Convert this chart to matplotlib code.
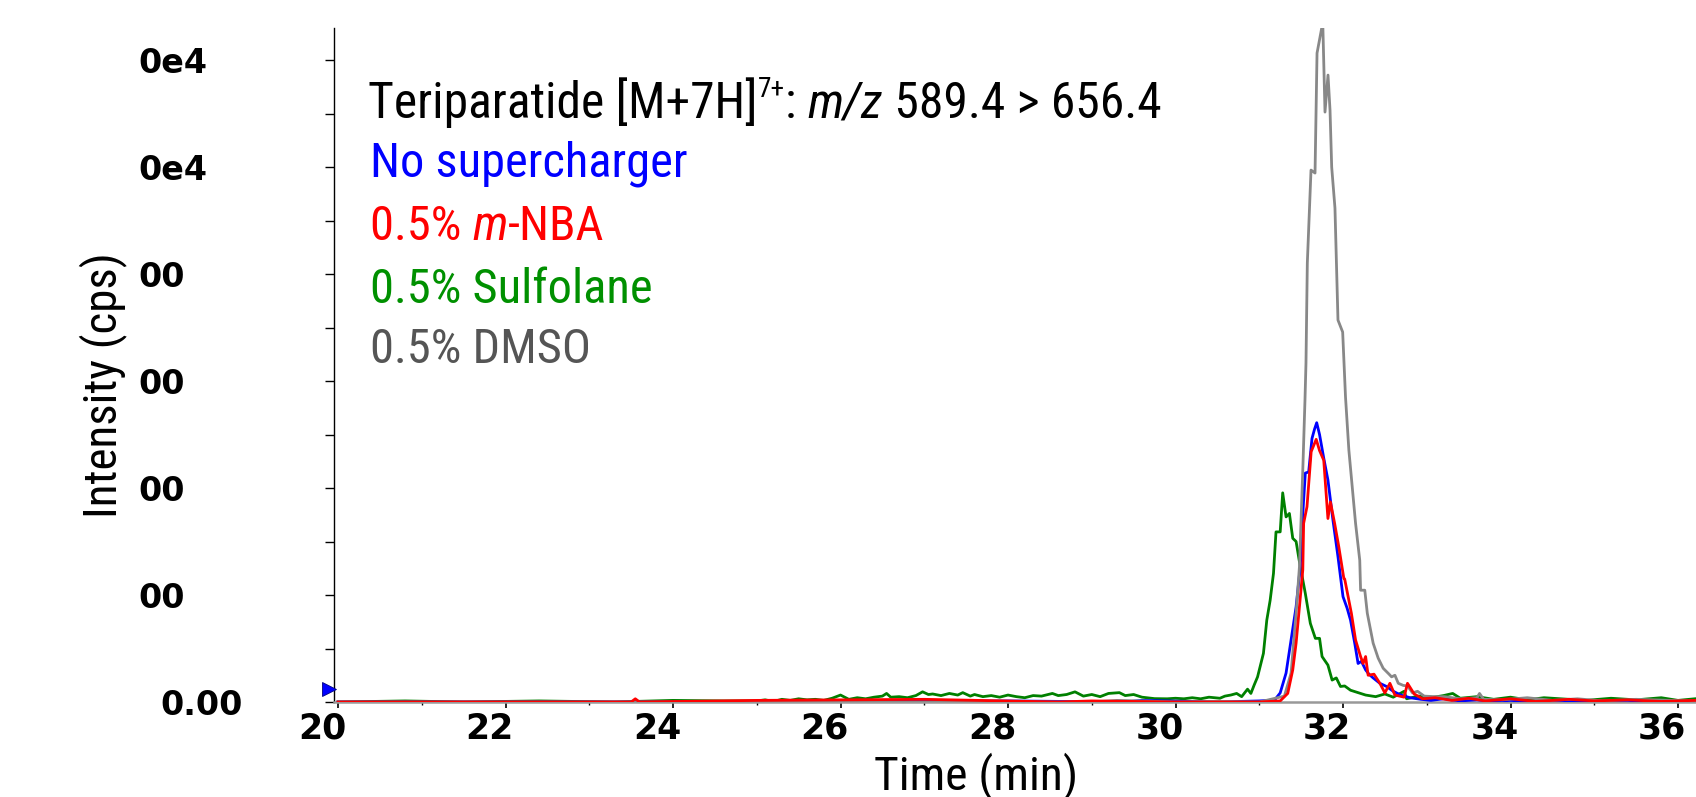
import matplotlib
matplotlib.use("Agg")
import matplotlib.pyplot as plt
from matplotlib import font_manager as fm
from matplotlib.font_manager import FontProperties
from matplotlib.transforms import ScaledTranslation

# ---------------- data ----------------
blue_t = [20.0, 25.0, 28.0, 29.4, 29.6, 30.5, 31.0, 31.12, 31.19, 31.25, 31.32, 31.38, 31.44, 31.49,
          31.525, 31.55, 31.59, 31.63, 31.66, 31.686, 31.72, 31.77, 31.82, 31.88, 31.94, 32.00, 32.05,
          32.09, 32.14, 32.18, 32.22, 32.27, 32.31, 32.36, 32.44, 32.52, 32.60, 32.69, 32.80, 32.93,
          33.05, 33.2, 33.4, 33.6, 33.8, 34.0, 34.3, 34.6, 35.0, 35.4, 35.8, 36.2]
blue_i = [0, 0, 20, 0, 30, 0, 20, 30, 50, 170, 540, 1160, 1780, 2530,
          3650, 4280, 4300, 4928, 5100, 5221, 5000, 4560, 4150, 3400, 2716, 1970, 1750,
          1530, 1100, 720, 760, 600, 520, 450, 350, 290, 200, 130, 80, 50,
          30, 60, 20, 40, 10, 30, 0, 20, 10, 30, 0, 10]

red_t = [20.0, 23.5, 23.55, 23.6, 25.0, 27.0, 28.6, 29.0, 30.0, 31.0, 31.25, 31.34, 31.40, 31.44,
         31.48, 31.52, 31.53, 31.57, 31.62, 31.68, 31.72, 31.77, 31.82, 31.85, 31.90, 31.95, 32.01,
         32.02, 32.10, 32.15, 32.21, 32.24, 32.27, 32.30, 32.37, 32.44, 32.50, 32.56, 32.62, 32.73,
         32.77, 32.85, 32.95, 33.1, 33.3, 33.5, 33.7, 34.0, 34.3, 34.7, 35.0, 35.4, 35.8, 36.2]
red_i = [0, 0, 60, 0, 30, 50, 0, 20, 0, 0, 20, 160, 600, 1100,
         1780, 2470, 3340, 3650, 4680, 4910, 4700, 4520, 3430, 3740, 3340, 2900, 2310,
         2300, 1660, 1160, 850, 720, 850, 500, 520, 350, 170, 350, 130, 90,
         350, 150, 60, 80, 30, 70, 20, 60, 10, 50, 20, 40, 10, 30]

green_t = [20.0, 20.8, 21.5, 22.4, 23.3, 24.0, 24.6, 25.0, 25.1, 25.2, 25.3, 25.4, 25.5, 25.6, 25.7,
           25.8, 25.9, 26.0, 26.1, 26.2, 26.3, 26.4, 26.5, 26.55, 26.6, 26.7, 26.8, 26.9, 26.98,
           27.05, 27.1, 27.2, 27.3, 27.4, 27.46, 27.55, 27.6, 27.7, 27.8, 27.9, 28.0, 28.1, 28.2,
           28.3, 28.4, 28.53, 28.6, 28.7, 28.8, 28.9, 29.0, 29.1, 29.2, 29.33, 29.4, 29.5, 29.6,
           29.75, 29.9, 30.0, 30.1, 30.2, 30.3, 30.4, 30.53, 30.59, 30.66, 30.73, 30.79, 30.86,
           30.90, 30.94, 30.98, 31.05, 31.09, 31.13, 31.17, 31.20, 31.25, 31.28, 31.32, 31.36,
           31.40, 31.44, 31.48, 31.55, 31.61, 31.67, 31.72, 31.75, 31.82, 31.87, 31.92, 31.97,
           32.02, 32.09, 32.17, 32.27, 32.39, 32.5, 32.6, 32.73, 32.76, 32.9, 33.05, 33.2, 33.31,
           33.4, 33.6, 33.8, 34.0, 34.2, 34.4, 34.6, 34.9, 35.2, 35.5, 35.8, 36.0, 36.2]
green_i = [0, 20, 0, 20, 0, 30, 20, 20, 40, 10, 50, 30, 60, 40, 50,
           30, 70, 130, 50, 80, 60, 90, 110, 160, 90, 100, 80, 120, 190,
           140, 150, 120, 160, 130, 175, 110, 140, 100, 120, 90, 130, 100, 80,
           120, 110, 160, 120, 140, 190, 110, 140, 100, 160, 175, 120, 140, 90,
           63, 60, 70, 60, 80, 60, 90, 70, 110, 130, 160, 100, 240,
           160, 320, 470, 910, 1530, 1900, 2405, 3180, 3180, 3910, 3460, 3525,
           3060, 3000, 2620, 2030, 1470, 1190, 1190, 850, 690, 410, 450, 290,
           300, 220, 180, 130, 100, 150, 90, 200, 60, 110, 80, 120, 160,
           70, 100, 50, 90, 40, 80, 60, 30, 70, 40, 80, 30, 60]

gray_t = [20.0, 29.0, 29.3, 29.6, 30.0, 30.5, 31.0, 31.3, 31.38, 31.44, 31.48, 31.52, 31.546,
          31.558, 31.574, 31.618, 31.666, 31.69, 31.746, 31.76, 31.785, 31.821, 31.845, 31.865,
          31.904, 31.94, 31.996, 32.03, 32.07, 32.11, 32.15, 32.20, 32.21, 32.26, 32.29, 32.36,
          32.42, 32.48, 32.55, 32.58, 32.62, 32.66, 32.72, 32.77, 32.83, 32.89, 32.97, 33.1,
          33.21, 33.4, 33.6, 33.63, 33.68, 33.9, 34.2, 34.5, 34.8, 35.1, 35.5, 35.9, 36.2]
gray_i = [0, 0, 30, 20, 0, 10, 0, 110, 540, 1660, 2530, 4340, 5645,
          6336, 8206, 9944, 9888, 12131, 12600, 12600, 11028, 11720, 11065, 10000,
          9234, 7140, 6916, 5700, 4710, 4025, 3340, 2650, 2090, 2090, 1660, 1100,
          820, 630, 520, 470, 500, 350, 310, 300, 170, 200, 110, 100,
          100, 60, 80, 160, 50, 40, 80, 30, 60, 20, 50, 30, 20]

x_ticks = [20, 22, 24, 26, 28, 30, 32, 34, 36]
x_tick_labels = ["20", "22", "24", "26", "28", "30", "32", "34", "36"]
y_ticks = [0, 2000, 4000, 6000, 8000, 10000, 12000]
y_tick_labels = ["0.00", "00", "00", "00", "00", "0e4", "0e4"]
marker_level = 250

# ---------------- fonts ----------------
def _weight_ok(w):
    return w in (400, "normal", "regular", "book", "roman", "medium", 500)

def find_narrow(style):
    entries = fm.fontManager.ttflist
    prefs = ["Liberation Sans Narrow", "Arial Narrow", "Roboto Condensed", "Open Sans Condensed",
             "Noto Sans Condensed", "DejaVu Sans Condensed"]
    for p in prefs:
        for f in entries:
            if f.name == p and f.style == style and _weight_ok(f.weight):
                return f.fname
    for pref_name in ["Liberation Sans", "Roboto", "Open Sans", "Noto Sans", "DejaVu Sans", None]:
        for f in entries:
            if (pref_name is None or f.name == pref_name) and \
               f.stretch in ("condensed", "semi-condensed") and f.style == style and _weight_ok(f.weight):
                return f.fname
    return None

reg_path = find_narrow("normal")
it_path = find_narrow("italic") or find_narrow("oblique")
if reg_path:
    FP_REG = FontProperties(fname=reg_path)
    FP_IT = FontProperties(fname=it_path) if it_path else FontProperties(fname=reg_path, style="italic")
else:
    FP_REG = FontProperties(family="Liberation Sans")
    FP_IT = FontProperties(family="Liberation Sans", style="italic")

W, H = 1696, 797
fig = plt.figure(figsize=(W / 100, H / 100), dpi=100)
renderer = fig.canvas.get_renderer()


def draw_runs(x_px, base_px, runs, size, color):
    """runs: list of (text, italic?, scale, raise_em). Returns list of Text and total width."""
    x = x_px
    texts = []
    for txt, ital, scale, rise in runs:
        fp = (FP_IT if ital else FP_REG).copy()
        fp.set_size(size * scale)
        t = fig.text(x / W, 1 - (base_px - rise * size * 100 / 72) / H, txt, fontproperties=fp,
                     color=color, ha="left", va="baseline")
        bb = t.get_window_extent(renderer)
        x += bb.width
        texts.append(t)
    return texts, x - x_px


def fit_size(runs, target_w, size0=30):
    texts, w = draw_runs(0, 0, runs, size0, "black")
    for t in texts:
        t.remove()
    return size0 * target_w / w


def fitted_text(x_frac, y_frac, txt, target_len, size0=30, **kw):
    fp = FP_REG.copy()
    fp.set_size(size0)
    t = fig.text(x_frac, y_frac, txt, fontproperties=fp, **kw)
    bb = t.get_window_extent(renderer)
    length = bb.height if kw.get("rotation", 0) == 90 else bb.width
    fp2 = FP_REG.copy()
    fp2.set_size(size0 * target_len / length)
    t.set_fontproperties(fp2)
    return t


ax_left, ax_bottom, ax_top = 334, 702, 28
ax = fig.add_axes([ax_left / W, 1 - ax_bottom / H, 1 - ax_left / W, (ax_bottom - ax_top) / H])

ax.plot(green_t, green_i, color="#008000", lw=2.0, zorder=2)
ax.plot(blue_t, blue_i, color="#0000ff", lw=2.0, zorder=3)
ax.plot(gray_t, gray_i, color="#888888", lw=2.0, zorder=4)
ax.plot(red_t, red_i, color="#ff0000", lw=2.0, zorder=5)

px_per_min = 83.75
ax.set_xlim(20 - 4 / px_per_min, 20 + (W - 338) / px_per_min)
ax.set_ylim(0, 12600)

for s in ["top", "right"]:
    ax.spines[s].set_visible(False)
ax.spines["left"].set_color("black")
ax.spines["left"].set_linewidth(1.0)
ax.spines["bottom"].set_color("#999999")
ax.spines["bottom"].set_linewidth(1.8)

ax.set_xticks(x_ticks, labels=x_tick_labels, fontfamily="DejaVu Sans", fontweight="bold", fontsize=25)
ax.set_xticks([21, 23, 25, 27, 29, 31, 33, 35], minor=True)
ax.set_yticks(y_ticks, labels=y_tick_labels, fontfamily="DejaVu Sans", fontweight="bold", fontsize=24)
ax.set_yticks([1000, 3000, 5000, 7000, 9000, 11000], minor=True)
ax.tick_params(axis="x", which="major", length=4, width=1.2, direction="out", pad=3, color="black")
ax.tick_params(axis="x", which="minor", length=2.5, width=1.0, direction="out", color="black")
ax.tick_params(axis="y", which="both", length=6.5, width=1.0, direction="out", color="black")
ax.tick_params(axis="y", which="major", pad=134)

for lbl in ax.get_yticklabels():
    lbl.set_horizontalalignment("left")
ax.get_yticklabels()[0].set_transform(ax.get_yticklabels()[0].get_transform()
                                      + ScaledTranslation(22 / 100, 0, fig.dpi_scale_trans))
for lbl in ax.get_xticklabels():
    lbl.set_transform(lbl.get_transform() + ScaledTranslation(-16 / 100, 0, fig.dpi_scale_trans))

# blue marker at left of axis
ax.plot([ax.get_xlim()[0] - 5 / px_per_min], [marker_level], marker=">", markersize=9.5,
        color="#0000ff", markeredgecolor="#000080", markeredgewidth=0.6, clip_on=False, zorder=6)

# annotation text (runs: text, italic, scale, rise in em)
title_runs = [("Teriparatide [M+7H]", False, 1.0, 0.0), ("7+", False, 0.55, 0.42),
              (": ", False, 1.0, 0.0), ("m/z", True, 1.0, 0.0), (" 589.4 > 656.4", False, 1.0, 0.0)]
draw_runs(368, 118, title_runs, fit_size(title_runs, 792), "black")

legend_runs = [
    [("No supercharger", False, 1.0, 0.0)],
    [("0.5% ", False, 1.0, 0.0), ("m", True, 1.0, 0.0), ("-NBA", False, 1.0, 0.0)],
    [("0.5% Sulfolane", False, 1.0, 0.0)],
    [("0.5% DMSO", False, 1.0, 0.0)],
]
legend_colors = ["#0000ff", "#ff0000", "#009000", "#555555"]
legend_baselines = [176.7, 240, 303, 363]
leg_size = fit_size(legend_runs[0], 318)
for runs, col, yb in zip(legend_runs, legend_colors, legend_baselines):
    draw_runs(370, yb, runs, leg_size, col)

fitted_text(103 / W, 1 - 385 / H, "Intensity (cps)", 266, rotation=90, ha="center", va="center",
            color="black")
fitted_text(976 / W, 1 - 789 / H, "Time (min)", 204, ha="center", va="baseline", color="black")

fig.savefig("out.png", dpi=100)
